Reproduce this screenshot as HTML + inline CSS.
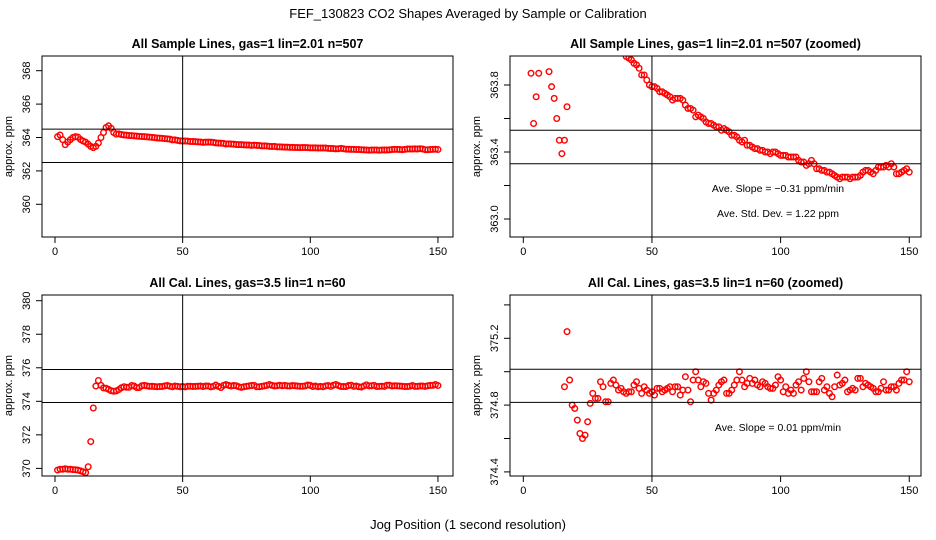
<!DOCTYPE html>
<html><head><meta charset="utf-8"><style>
html,body{margin:0;padding:0;background:#fff;width:936px;height:540px;overflow:hidden}
svg{display:block;font-family:"Liberation Sans",sans-serif}
</style></head><body>
<svg id="c" width="936" height="540" viewBox="0 0 936 540">
<text x="468" y="18" text-anchor="middle" font-size="13">FEF_130823  CO2 Shapes Averaged by Sample or Calibration</text>
<text x="468" y="529" text-anchor="middle" font-size="13">Jog Position (1 second resolution)</text>
</svg>
<script>
const xTicks=[0,50,100,150];
const sampleY=[364.05,364.15,363.87,363.57,363.73,363.87,364.0,364.05,364.02,363.88,
363.79,363.72,363.6,363.47,363.39,363.47,363.67,364.0,364.3,364.6,
364.7,364.55,364.3,364.2,364.22,364.18,364.15,364.14,364.12,364.11,
364.1,364.08,364.07,364.06,364.05,364.04,364.02,364.01,363.99,363.97,
363.96,363.95,363.93,363.92,363.9,363.86,363.86,363.83,363.8,363.79,
363.79,363.78,363.76,363.76,363.75,363.74,363.73,363.71,363.72,363.72,
363.72,363.71,363.68,363.66,363.66,363.65,363.61,363.62,363.61,363.6,
363.58,363.57,363.57,363.56,363.55,363.55,363.53,363.54,363.53,363.52,
363.5,363.5,363.49,363.47,363.46,363.47,363.44,363.44,363.43,363.42,
363.42,363.41,363.41,363.4,363.4,363.39,363.4,363.4,363.39,363.38,
363.38,363.38,363.37,363.37,363.37,363.37,363.35,363.34,363.34,363.32,
363.33,363.35,363.33,363.3,363.3,363.29,363.29,363.28,363.28,363.27,
363.26,363.25,363.24,363.25,363.25,363.25,363.24,363.25,363.25,363.25,
363.26,363.28,363.29,363.29,363.28,363.27,363.29,363.31,363.31,363.31,
363.32,363.31,363.33,363.31,363.27,363.27,363.28,363.29,363.3,363.28];
const calY=[369.9,369.95,369.95,369.98,369.95,369.95,369.93,369.92,369.9,369.85,
369.8,369.75,370.1,371.6,373.6,374.91,375.24,374.95,374.8,374.78,
374.71,374.63,374.6,374.62,374.7,374.81,374.87,374.84,374.84,374.94,
374.91,374.82,374.82,374.93,374.95,374.92,374.89,374.9,374.88,374.87,
374.88,374.88,374.92,374.94,374.9,374.87,374.91,374.89,374.87,374.88,
374.86,374.9,374.9,374.88,374.89,374.9,374.91,374.88,374.91,374.91,
374.86,374.89,374.97,374.89,374.82,374.95,375.0,374.95,374.91,374.94,
374.93,374.87,374.83,374.87,374.89,374.92,374.94,374.95,374.87,374.87,
374.89,374.92,374.95,375.0,374.95,374.91,374.93,374.96,374.93,374.95,
374.92,374.91,374.94,374.93,374.91,374.9,374.9,374.92,374.97,374.95,
374.88,374.91,374.87,374.89,374.87,374.92,374.94,374.89,374.96,375.0,
374.94,374.88,374.88,374.88,374.94,374.96,374.89,374.91,374.87,374.85,
374.91,374.98,374.92,374.93,374.95,374.88,374.89,374.9,374.89,374.96,
374.96,374.91,374.93,374.92,374.91,374.9,374.88,374.88,374.9,374.94,
374.89,374.89,374.91,374.91,374.89,374.93,374.95,374.95,375.0,374.94];
const p1Ticks=[360,362,364,366,368], p1Labels=["360","362","364","366","368"];
const p2Ticks=[363.0,363.2,363.4,363.6,363.8], p2Labels=["363.0","","363.4","","363.8"];
const p3Ticks=[370,372,374,376,378,380], p3Labels=["370","372","374","376","378","380"];
const p4Ticks=[374.4,374.6,374.8,375.0,375.2,375.4], p4Labels=["374.4","","374.8","","375.2",""];
const p1H=[364.5,362.5], p2H=[363.53,363.33], p3H=[375.9,373.93], p4H=[375.015,374.816];
const vLine=50;

const NS="http://www.w3.org/2000/svg", svg=document.getElementById('c');
function mk(tag,attrs,parent){const e=document.createElementNS(NS,tag);for(const k in attrs)e.setAttribute(k,attrs[k]);(parent||svg).appendChild(e);return e;}

function panel(id,box,x0,xs,yRef,yPx,yScale,data,ticks,labels,hl,title,notes){
  const [L,T,R,B]=box;
  const X=v=>x0+v*xs, Y=v=>yPx+(yRef-v)*yScale;
  const g=mk('g',{});
  
  
  const cp=mk('clipPath',{id:id+'clip'},g);mk('rect',{x:L,y:T,width:R-L,height:B-T},cp);
  const t=mk('text',{x:(L+R)/2,y:T-8,'text-anchor':'middle','font-size':12.5,'font-weight':'bold'},g);t.textContent=title;
  
  
  const yt=mk('text',{transform:`translate(${L-30},${(T+B)/2}) rotate(-90)`,'text-anchor':'middle','font-size':11},g);yt.textContent='approx. ppm';
  
  
  xTicks.forEach(v=>{mk('line',{x1:X(v),x2:X(v),y1:B,y2:B+6,stroke:'#000'},g);
    const tx=mk('text',{x:X(v),y:B+18,'text-anchor':'middle','font-size':11},g);tx.textContent=v;
    
    });
  ticks.forEach((v,i)=>{const y=Y(v);mk('line',{x1:L-6,x2:L,y1:y,y2:y,stroke:'#000'},g);
    if(labels[i]){const tx=mk('text',{transform:`translate(${L-12},${y}) rotate(-90)`,'text-anchor':'middle','font-size':11},g);tx.textContent=labels[i];
    
    }});
  const pts=mk('g',{'clip-path':`url(#${id}clip)`,fill:'none',stroke:'#f00','stroke-width':1.4},g);
  
  
  data.forEach((v,i)=>{const c=mk('circle',{cx:X(i+1),cy:Y(v),r:2.8},pts);
    
    });
  hl.forEach(v=>{const l=mk('line',{x1:L,x2:R,y1:Y(v),y2:Y(v),stroke:'#000'},g);
    
    });
  const vl=mk('line',{x1:X(vLine),x2:X(vLine),y1:T,y2:B,stroke:'#000'},g);
  
  
  const bx=mk('rect',{x:L,y:T,width:R-L,height:B-T,fill:'none',stroke:'#000'},g);
  
  
  notes.forEach(n=>{const tx=mk('text',{x:n[0],y:n[1],'text-anchor':'middle','font-size':10.5},g);tx.textContent=n[2];
    
    });
}
panel('sample-all',[42,56,453,237],55,2.553,368,70.7,16.7,sampleY,p1Ticks,p1Labels,p1H,'All Sample Lines, gas=1 lin=2.01 n=507',[]);
panel('sample-zoom',[510,56,921,237],523.3,2.573,363.8,85,167.5,sampleY,p2Ticks,p2Labels,p2H,'All Sample Lines, gas=1 lin=2.01 n=507 (zoomed)',
  [[778,192,'Ave. Slope =  \u22120.31  ppm/min'],[778,217,'Ave. Std. Dev. =  1.22  ppm']]);
panel('cal-all',[42,295,453,476],55,2.553,380,300.7,16.77,calY,p3Ticks,p3Labels,p3H,'All Cal. Lines, gas=3.5 lin=1 n=60',[]);
panel('cal-zoom',[510,295,921,476],523.3,2.573,375.2,338.3,167,calY,p4Ticks,p4Labels,p4H,'All Cal. Lines, gas=3.5 lin=1 n=60 (zoomed)',
  [[778,431,'Ave. Slope =  0.01  ppm/min']]);
</script>
</body></html>
